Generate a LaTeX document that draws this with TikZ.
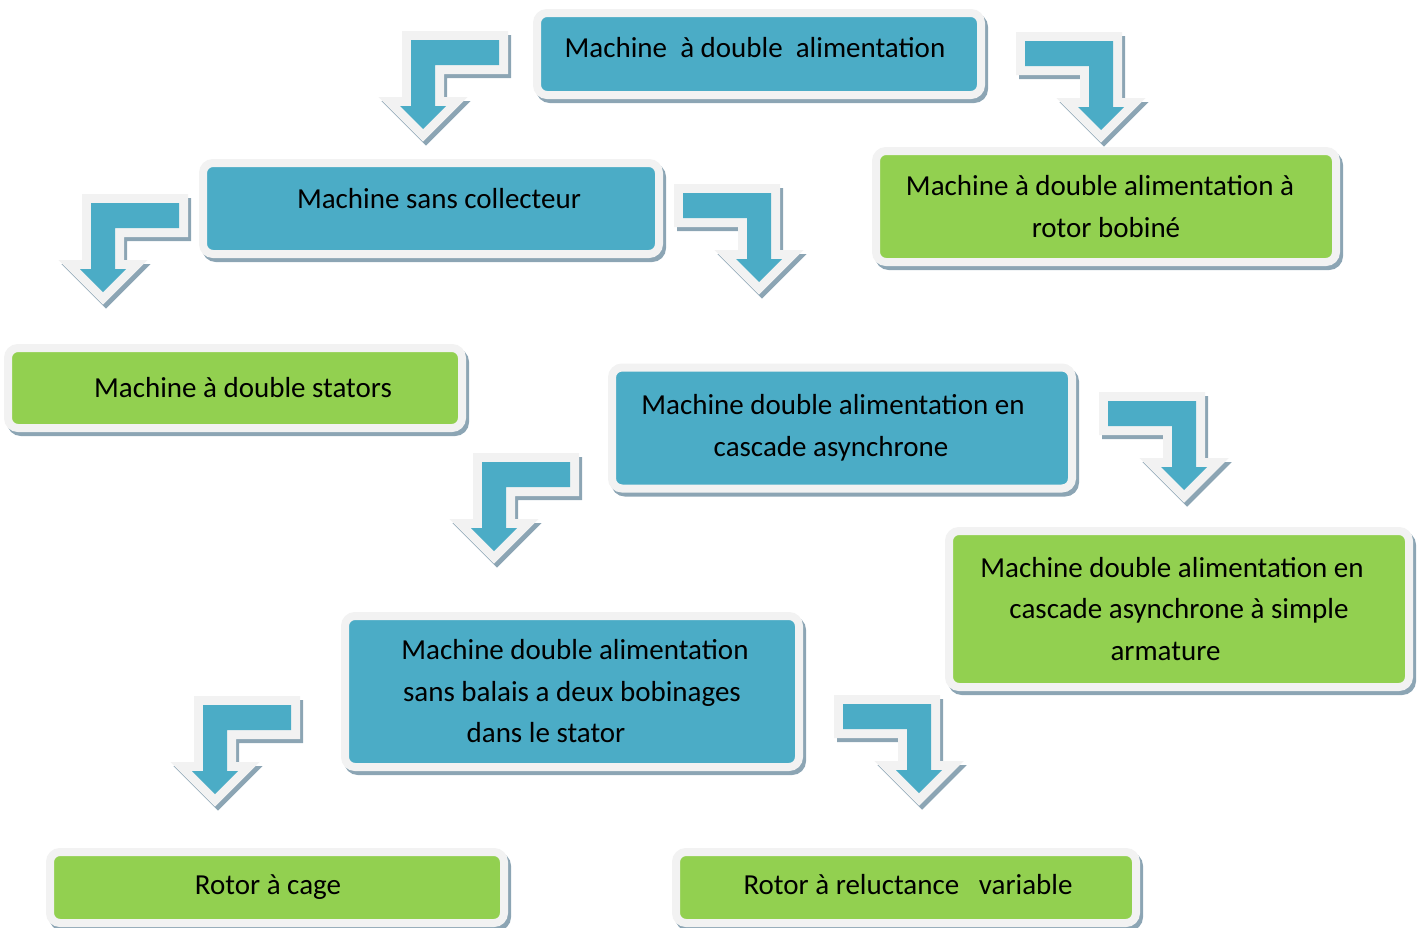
\documentclass[tikz,border=0pt]{standalone}
\usepackage{fontspec}
\setmainfont{Carlito}
\usepackage{tikz}
\usetikzlibrary{positioning}
\definecolor{boxblue}{RGB}{75,172,198}
\definecolor{boxgreen}{RGB}{146,208,80}
\definecolor{rimgray}{RGB}{242,242,242}
\definecolor{shadegray}{RGB}{140,165,180}

\begin{document}
\begin{tikzpicture}[
  x=1pt, y=-1pt,
  font=\fontsize{29}{41.5}\selectfont,
  cbox/.style={draw=rimgray, line width=8pt, rounded corners=10pt, align=center, inner sep=0pt,
    preaction={draw=shadegray, fill=shadegray, line width=8pt, transform canvas={shift={(3pt,-4pt)}}}},
  bluebox/.style={cbox, fill=boxblue},
  greenbox/.style={cbox, fill=boxgreen},
  arrshade/.style={draw=shadegray, fill=shadegray, line width=18pt, shift={(3,4)}},
  arrrim/.style={draw=rimgray, line width=18pt},
  arrfill/.style={fill=boxblue},
  pics/bendarrow/.style={code={
    \foreach \sty in {arrshade,arrrim,arrfill}
      \path[\sty, xscale=#1] (-12,-89) -- (76,-89) -- (76,-64) -- (12,-64) -- (12,-23)
        -- (23,-23) -- (0,0) -- (-23,-23) -- (-12,-23) -- cycle;
  }}
]
\useasboundingbox (0,0) rectangle (1421,927);

% bent arrows (tip position, bar to the right = 1, to the left = -1)
\pic at (423,129) {bendarrow=1};
\pic at (1101,130) {bendarrow=-1};
\pic at (759,282) {bendarrow=-1};
\pic at (103,292) {bendarrow=1};
\pic at (1184,490) {bendarrow=-1};
\pic at (494,551) {bendarrow=1};
\pic at (215,794) {bendarrow=1};
\pic at (919,793) {bendarrow=-1};

% boxes
\node[bluebox, minimum width=444pt, minimum height=82pt, text depth=14pt] (mada) at (759,54) {Machine\ \ à double\ \ alimentation\hspace*{8pt}};
\node[bluebox, minimum width=456pt, minimum height=91pt, text depth=21pt] (sanscol) at (431,208.5) {\hspace*{16pt}Machine sans collecteur};
\node[greenbox, minimum width=460pt, minimum height=111pt] (bobine) at (1106,206.5) {Machine à double alimentation à\hspace*{12pt}\\rotor bobiné};
\node[greenbox, minimum width=454pt, minimum height=80pt] (stators) at (235,388) {\hspace*{16pt}Machine à double stators};
\node[bluebox, minimum width=460pt, minimum height=121pt] (cascade) at (842,428) {Machine double alimentation en\hspace*{18pt}\\cascade asynchrone\hspace*{22pt}};
\node[greenbox, minimum width=460pt, minimum height=156pt] (simple) at (1179,609) {Machine double alimentation en\hspace*{14pt}\\cascade asynchrone à simple\hspace*{6pt}\\armature\hspace*{27pt}};
\node[bluebox, minimum width=454pt, minimum height=151pt] (balais) at (572,691.5) {\hspace*{6pt}Machine double alimentation\\sans balais a deux bobinages\hspace*{4pt}\\dans le stator\hspace*{52pt}};
\node[greenbox, minimum width=454pt, minimum height=71pt] (cage) at (277,887.5) {Rotor à cage\hspace*{18pt}};
\node[greenbox, minimum width=460pt, minimum height=71pt, text depth=7pt] (reluct) at (906,887.5) {\hspace*{4pt}Rotor à reluctance\ \ \ variable};
\end{tikzpicture}
\end{document}
